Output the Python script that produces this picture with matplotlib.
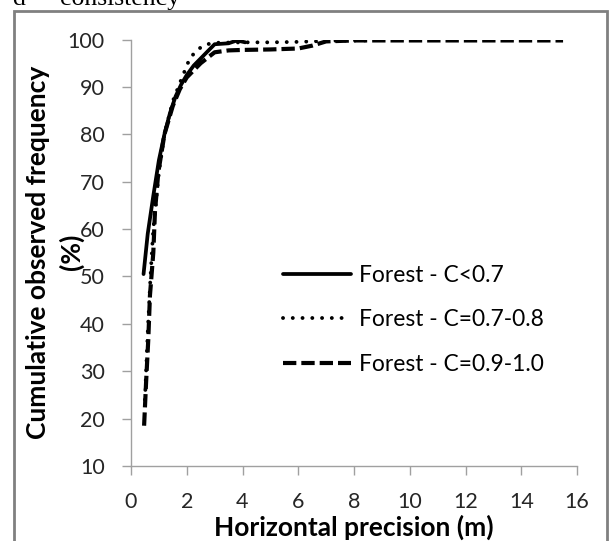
import matplotlib
matplotlib.use("Agg")
from matplotlib import pyplot as plt
from matplotlib.patches import Rectangle

plt.rcParams['font.family'] = ['Lato', 'DejaVu Sans']

# 数据
x_low = [0.45, 0.6, 0.8, 1.0, 1.2, 1.4, 1.6, 1.8, 2.0, 2.25, 2.5, 2.75, 3.0, 3.25, 3.5, 3.8, 4.1]
y_low = [50.5, 59, 67, 74.5, 80, 84.5, 88, 90.5, 92.5, 94.5, 96, 97.5, 99, 99.1, 99.2, 99.8, 99.4]

x_mid = [0.5, 0.6, 0.7, 0.8, 1.0, 1.2, 1.5, 1.8, 2.1, 2.35, 2.65, 3.0, 4.0, 5.0, 6.0, 7.0, 8.0, 8.5]
y_mid = [24, 38, 50, 60, 72, 80, 87, 91.5, 95.9, 97.7, 98.9, 99.3, 99.4, 99.4, 99.5, 99.7, 99.8, 99.8]

x_high = [0.47, 0.54, 0.62, 0.68, 0.8, 0.86, 0.98, 1.2, 1.5, 1.75, 2.0, 2.5, 3.0, 3.5, 4.0, 5.0, 6.0,
          6.5, 7.0, 8.0, 9.0, 10.0, 11.0, 12.0, 13.0, 14.0, 15.0, 15.5]
y_high = [18.5, 27.5, 36.7, 46, 55, 63.7, 72, 80, 86, 89.5, 92, 95, 97.3, 97.7, 97.8, 97.9, 98.1,
          98.7, 99.6, 99.8, 99.8, 99.8, 99.8, 99.8, 99.8, 99.8, 99.8, 99.8]

labels = ["Forest - C<0.7", "Forest - C=0.7-0.8", "Forest - C=0.9-1.0"]

fig = plt.figure(figsize=(6.09, 5.41), dpi=100)
ax = fig.add_axes([131 / 609, 1 - 466 / 541, 446 / 609, 426.5 / 541])

ax.plot(x_low, y_low, color="black", lw=2.7, ls="-", label=labels[0], solid_capstyle="round")
ax.plot(x_mid, y_mid, color="black", lw=2.8, ls=(0, (0.01, 2.5)), label=labels[1],
        dash_capstyle="round")
ax.plot(x_high, y_high, color="black", lw=3.0, ls=(0, (3.2, 1.2)), label=labels[2])

ax.set_xlim(0, 16)
ax.set_ylim(10, 100)
ax.set_xticks(range(0, 17, 2))
ax.set_yticks(range(10, 101, 10))
for s in ["top", "right"]:
    ax.spines[s].set_visible(False)
for s in ["left", "bottom"]:
    ax.spines[s].set_color("#a0a0a0")
    ax.spines[s].set_linewidth(1.0)
ax.tick_params(direction="out", length=6.5, width=1.0, color="#a0a0a0",
               labelsize=15.5, labelcolor="#262626")
ax.tick_params(axis="x", pad=12)
ax.tick_params(axis="y", pad=12.5)

ax.set_xlabel("Horizontal precision (m)", fontsize=19, fontweight="bold", labelpad=2)
fig.text(38 / 609, 1 - 252 / 541, "Cumulative observed frequency", rotation=90,
         fontsize=19, fontweight="bold", ha="center", va="center")
fig.text(71 / 609, 1 - 252 / 541, "(%)", rotation=90,
         fontsize=19, fontweight="bold", ha="center", va="center")

leg = ax.legend(loc="upper left", bbox_to_anchor=(152 / 446, 0.472), frameon=False,
                fontsize=16.4, handlelength=3.0, handletextpad=0.35, labelspacing=1.03,
                borderpad=0, borderaxespad=0)

# 外框和标题
fig.patches.append(Rectangle((14 / 609, -0.05), 593 / 609, 1.05 - 11 / 541,
                             transform=fig.transFigure, fill=False,
                             edgecolor="#808080", lw=2))
fig.text(13 / 609, 1 - 5 / 541, "d \u2013", fontsize=18.5,
         family="Liberation Serif", va="baseline", ha="left")
fig.text(60 / 609, 1 - 5 / 541, "consistency", fontsize=18.5,
         family="Liberation Serif", va="baseline", ha="left")

plt.savefig("out.png", dpi=100)
